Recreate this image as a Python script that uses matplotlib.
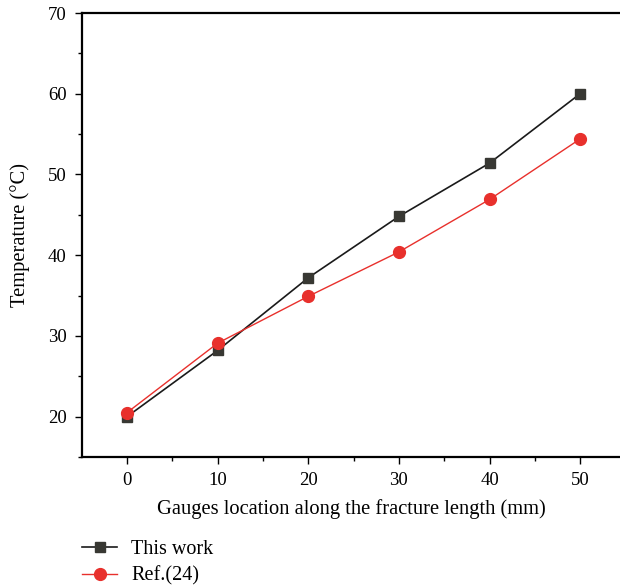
import matplotlib
matplotlib.use("Agg")
import matplotlib.pyplot as plt
from matplotlib.ticker import MultipleLocator

plt.rcParams['font.family'] = ['Liberation Serif', 'DejaVu Serif']

gauge_pos = [0, 10, 20, 30, 40, 50]
this_work = [20.0, 28.2, 37.2, 44.8, 51.4, 60.0]
ref_24 = [20.5, 29.1, 34.9, 40.4, 46.9, 54.4]

W, H = 620, 586
fig = plt.figure(figsize=(W / 100, H / 100), dpi=100)
# axes box in pixels: left 82, top 13, bottom 457, runs off the right edge
ax = fig.add_axes([82 / W, 1 - 457 / H, (W - 82) / W, (457 - 13) / H])

ax.plot(gauge_pos, this_work, color='#1a1a1a', lw=1.2, marker='s', ms=7.5,
        mfc='#383833', mec='#383833', label='This work', zorder=3)
ax.plot(gauge_pos, ref_24, color='#e8302c', lw=1.0, marker='o', ms=8.5,
        mfc='#e8302c', mec='#e8302c', label='Ref.(24)', zorder=4)

ax.set_xlim(-4.97, 54.4)
ax.set_ylim(15, 70)
ax.set_xticks(gauge_pos)
ax.set_yticks([20, 30, 40, 50, 60, 70])
ax.xaxis.set_minor_locator(MultipleLocator(5))
ax.yaxis.set_minor_locator(MultipleLocator(5))
ax.tick_params(which='major', direction='out', length=5, width=1, labelsize=13.5, pad=6)
ax.tick_params(which='minor', direction='out', length=3, width=1)

ax.spines['right'].set_visible(False)
for s in ['left', 'bottom', 'top']:
    ax.spines[s].set_linewidth(1.6)

ax.set_xlabel('Gauges location along the fracture length (mm)', fontsize=14.8, labelpad=7)
ax.set_ylabel('Temperature (°C)', fontsize=14.8, labelpad=13)

fig.legend(loc='upper left', bbox_to_anchor=(82 / W, 1 - 540 / H), frameon=False,
           fontsize=14.5, handlelength=1.75, handletextpad=0.7, labelspacing=0.35,
           borderpad=0, borderaxespad=0)

fig.savefig('out.png', dpi=100)
